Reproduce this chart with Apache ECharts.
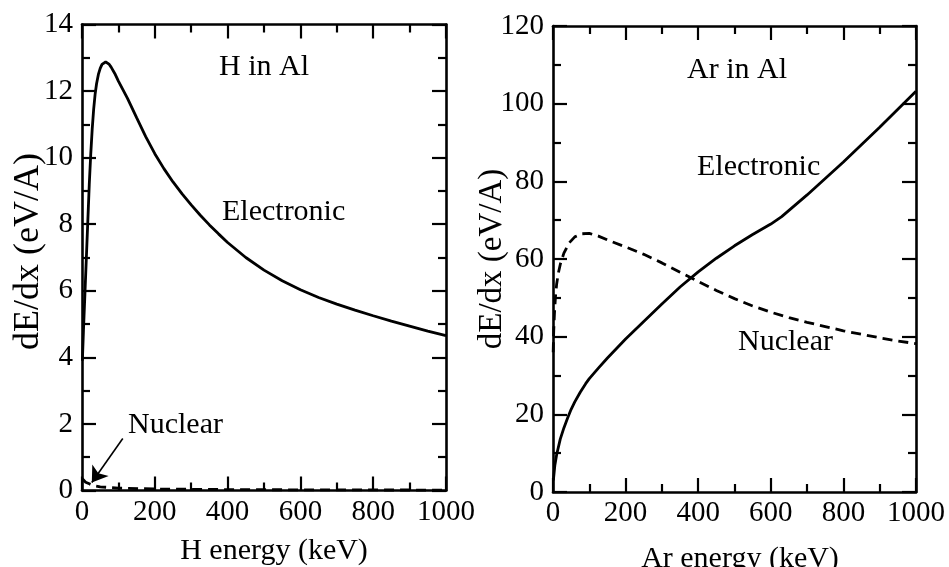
<!DOCTYPE html>
<html>
<head>
<meta charset="utf-8">
<script src="https://cdn.jsdelivr.net/npm/echarts@6/dist/echarts.min.js"></script>
<style>
html,body{margin:0;padding:0;background:#fff;}
#chart{width:949px;height:567px;}
</style>
</head>
<body>
<div id="chart"></div>
<script>
// ---- data ----
const hElecX = [1,4,8,12,16,20,24,28,32,36,40,45,50,55,60,65,70,75,80,90,100,125,150,175,200,225,250,275,300,325,350,375,400,450,500,550,600,650,700,750,800,850,900,950,1000];
const hElecY = [3.9,4.8,5.9,7.0,8.1,9.2,10.1,10.85,11.45,11.9,12.22,12.5,12.68,12.8,12.86,12.88,12.86,12.8,12.72,12.53,12.3,11.78,11.2,10.63,10.12,9.67,9.27,8.91,8.58,8.27,7.98,7.71,7.45,7.0,6.62,6.3,6.03,5.8,5.6,5.42,5.25,5.09,4.94,4.79,4.65];
const hNuclX = [1,5,10,20,30,50,100,200,400,600,800,1000];
const hNuclY = [0.35,0.3,0.25,0.2,0.15,0.11,0.07,0.045,0.028,0.02,0.016,0.013];
const arElecX = [1,5,10,20,30,40,50,60,75,90,100,125,150,200,250,300,350,400,450,500,550,600,630,700,800,900,1000];
const arElecY = [3.0,6.8,9.6,13.6,16.5,19.0,21.3,23.2,25.7,27.9,29.2,31.9,34.5,39.4,43.9,48.4,52.8,56.7,60.2,63.4,66.3,69.0,70.9,76.5,85.0,93.9,103.2];
const arNuclX = [0.5,1,2,4,7,10,15,20,30,45,60,80,100,125,150,200,250,300,350,400,450,500,550,600,650,700,750,800,850,900,950,1000];
const arNuclY = [36,38,41.5,46,50.5,53.5,56.5,58.6,61.5,64.2,65.7,66.5,66.6,65.9,64.9,63.1,61.2,59.0,56.6,54.2,51.9,49.8,47.9,46.3,44.9,43.7,42.6,41.5,40.6,39.7,38.9,38.2];
const xTitles = ['H energy (keV)', 'Ar energy (keV)'];
const yTitle = 'dE/dx (eV/A)';
const panelLabels = ['H in Al', 'Ar in Al'];
const curveLabels = ['Electronic', 'Nuclear'];
const nuclearArrow = [[112, 1.56], [27, 0.24]];

const zip = (xs, ys) => xs.map((x, i) => [x, ys[i]]);

const FONT = "'Liberation Serif', 'Times New Roman', serif";
const lineW = 2.8;
const axisLine = {show: true, onZero: false, lineStyle: {color: '#000', width: 2.6}};
const tick = {show: true, inside: true, length: 14, lineStyle: {color: '#000', width: 2.2}};
const minor = {show: true, splitNumber: 2, length: 8, lineStyle: {color: '#000', width: 2.2}};

function xAxes(gi, name, nameGap, padLeft) {
  return [
    {type: 'value', gridIndex: gi, min: 0, max: 1000, interval: 200, position: 'bottom',
     name: name, nameLocation: 'middle', nameGap: nameGap,
     nameTextStyle: {fontFamily: FONT, fontSize: 30, color: '#000', padding: [0, 0, 0, padLeft]},
     axisLine: axisLine, axisTick: tick, minorTick: minor, splitLine: {show: false},
     axisLabel: {fontFamily: FONT, fontSize: 29, color: '#000', margin: 7, formatter: v => String(v)}},
    {type: 'value', gridIndex: gi, min: 0, max: 1000, interval: 200, position: 'top',
     axisLine: axisLine, axisTick: tick, minorTick: minor, splitLine: {show: false},
     axisLabel: {show: false}}
  ];
}
function yAxes(gi, max, interval, nameGap, nameSize, padLeft) {
  return [
    {type: 'value', gridIndex: gi, min: 0, max: max, interval: interval, position: 'left',
     name: yTitle, nameLocation: 'middle', nameGap: nameGap, nameRotate: 90, nameMoveOverlap: false,
     nameTextStyle: {fontFamily: FONT, fontSize: nameSize, color: '#000', padding: [0, 0, 0, padLeft]},
     axisLine: axisLine, axisTick: tick, minorTick: minor, splitLine: {show: false},
     axisLabel: {fontFamily: FONT, fontSize: 29, color: '#000', margin: 9}},
    {type: 'value', gridIndex: gi, min: 0, max: max, interval: interval, position: 'right',
     axisLine: axisLine, axisTick: tick, minorTick: minor, splitLine: {show: false},
     axisLabel: {show: false}}
  ];
}

const chart = echarts.init(document.getElementById('chart'), null, {renderer: 'canvas'});
const option = {
  animation: false,
  backgroundColor: '#fff',
  grid: [
    {left: 82, top: 24.5, width: 364, height: 466, containLabel: false, outerBoundsMode: 'none'},
    {left: 553, top: 26, width: 363, height: 466, containLabel: false, outerBoundsMode: 'none'}
  ],
  xAxis: [...xAxes(0, xTitles[0], 46, 20), ...xAxes(1, xTitles[1], 52, 11)],
  yAxis: [...yAxes(0, 14, 2, 35, 36, 12), ...yAxes(1, 120, 20, 44, 33, 0)],
  series: [
    {type: 'line', xAxisIndex: 0, yAxisIndex: 0, data: zip(hElecX, hElecY), showSymbol: false,
     lineStyle: {color: '#000', width: lineW}},
    {type: 'line', xAxisIndex: 0, yAxisIndex: 0, data: zip(hNuclX, hNuclY), showSymbol: false,
     lineStyle: {color: '#000', width: lineW, type: [10, 6]},
     markLine: {silent: true, symbol: ['none', 'arrow'], symbolSize: 15, label: {show: false},
       lineStyle: {color: '#000', width: 1.6, type: 'solid'},
       data: [[{coord: nuclearArrow[0]}, {coord: nuclearArrow[1]}]]}},
    {type: 'line', xAxisIndex: 2, yAxisIndex: 2, data: zip(arElecX, arElecY), showSymbol: false,
     lineStyle: {color: '#000', width: lineW}},
    {type: 'line', xAxisIndex: 2, yAxisIndex: 2, data: zip(arNuclX, arNuclY), showSymbol: false,
     lineStyle: {color: '#000', width: lineW, type: [10, 6]}}
  ],
  graphic: [
    {type: 'text', x: 264, y: 67, style: {text: panelLabels[0], font: '30px ' + FONT, fill: '#000', textAlign: 'center', textVerticalAlign: 'middle'}},
    {type: 'text', x: 222, y: 212, style: {text: curveLabels[0], font: '30px ' + FONT, fill: '#000', textAlign: 'left', textVerticalAlign: 'middle'}},
    {type: 'text', x: 128, y: 425, style: {text: curveLabels[1], font: '30px ' + FONT, fill: '#000', textAlign: 'left', textVerticalAlign: 'middle'}},
    {type: 'text', x: 687, y: 70, style: {text: panelLabels[1], font: '30px ' + FONT, fill: '#000', textAlign: 'left', textVerticalAlign: 'middle'}},
    {type: 'text', x: 697, y: 167, style: {text: curveLabels[0], font: '30px ' + FONT, fill: '#000', textAlign: 'left', textVerticalAlign: 'middle'}},
    {type: 'text', x: 738, y: 342, style: {text: curveLabels[1], font: '30px ' + FONT, fill: '#000', textAlign: 'left', textVerticalAlign: 'middle'}}
  ]
};
chart.setOption(option);
</script>
</body>
</html>
